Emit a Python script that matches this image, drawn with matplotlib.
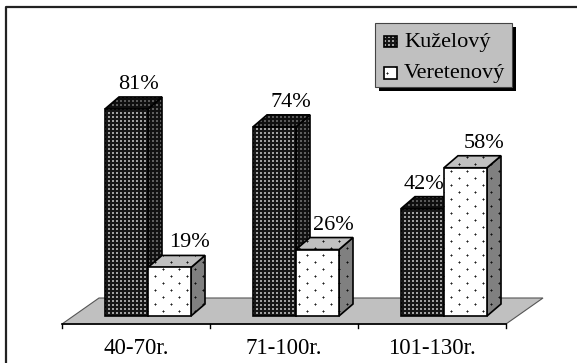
import matplotlib
matplotlib.use("Agg")
import matplotlib.pyplot as plt
import numpy as np
from matplotlib.patches import Polygon
from matplotlib.transforms import Affine2D

categories = ["40-70r.", "71-100r.", "101-130r."]
series_names = ["Kuželový", "Veretenový"]
kuzelovy = [81, 74, 42]
veretenovy = [19, 26, 58]

W, H = 577, 363
GROUP_PX = 148.0
PCT_PX = 2.556
X0_PX, Y0_PX = 136.0, 316.0

plt.rcParams["font.family"] = ["Liberation Serif", "DejaVu Serif"]
fig = plt.figure(figsize=(W / 100, H / 100), dpi=100, facecolor="white")
ax = fig.add_axes([0, 0, 1, 1])
ax.set_xlim(-X0_PX / GROUP_PX, (W - X0_PX) / GROUP_PX)
ax.set_ylim((Y0_PX - H) / PCT_PX, Y0_PX / PCT_PX)
ax.axis("off")
# pixel coords (y down) for frame, legend and text placement
px = Affine2D().scale(1, -1).translate(0, H)

# textures, one value per figure pixel
yy, xx = np.mgrid[0:H, 0:W]
grid = (xx % 4 < 2) & (yy % 4 < 2)
# soft staggered dots: dark centre, grey neighbours
u = xx % 16
v = yy % 14
centre = ((u == 3) & (v == 3)) | ((u == 11) & (v == 10))
halo = np.zeros_like(centre)
for sx, sy in [(1, 0), (-1, 0), (0, 1), (0, -1)]:
    halo |= np.roll(np.roll(centre, sx, axis=1), sy, axis=0)


def dark(light, base=22):
    return np.where(grid, light, base)


def dotted(back):
    out = np.where(halo, back * 0.5, back)
    return np.where(centre, back * 0.12, out)


tex = {
    "dark_front": dark(160),
    "dark_side": dark(95, 18),
    "dark_top": dark(90, 15),
    "light_front": dotted(255),
    "light_side": dotted(128),
    "light_top": dotted(192),
}

z = [1]


def textured(points, name, transform=None, lw=1.2):
    z[0] += 1
    tr = transform if transform is not None else ax.transData
    poly = Polygon(points, closed=True, facecolor="none", edgecolor="black",
                   linewidth=lw, transform=tr, zorder=z[0] + 0.5)
    ax.add_patch(poly)
    im = ax.imshow(tex[name], cmap="gray", vmin=0, vmax=255, origin="upper",
                   extent=(*ax.get_xlim(), *ax.get_ylim()), aspect="auto",
                   interpolation="nearest", zorder=z[0])
    im.set_clip_path(poly)
    z[0] += 1


def bar3d(x, w, val, kind, dx=14 / GROUP_PX, dy=12 / PCT_PX):
    textured([(x + w, 0), (x + w + dx, dy), (x + w + dx, val + dy), (x + w, val)], kind + "_side")
    textured([(x, val), (x + dx, val + dy), (x + w + dx, val + dy), (x + w, val)], kind + "_top")
    textured([(x, 0), (x + w, 0), (x + w, val), (x, val)], kind + "_front")


# floor
floor_y = -8 / PCT_PX
back_y = 18 / PCT_PX
shift = 37 / GROUP_PX
ax.add_patch(Polygon([(-0.5, floor_y), (2.5, floor_y), (2.5 + shift, back_y), (-0.5 + shift, back_y)],
                     facecolor="#c0c0c0", edgecolor="#555555", linewidth=0.8, zorder=1))

ax.plot([-0.5, 2.5], [floor_y, floor_y], color="black", lw=1.2, zorder=500)
for t in range(4):
    ax.plot([t - 0.5, t - 0.5], [floor_y, floor_y - 4 / PCT_PX], color="black", lw=1.0, zorder=500)

bar_left = -31 / GROUP_PX
bar_w = 43 / GROUP_PX
label_dx_k = [12, 16, 1]
label_dx_v = [20, 16, 19]
FS = 16

for i in range(len(categories)):
    x1 = i + bar_left
    x2 = x1 + bar_w
    bar3d(x1, bar_w, kuzelovy[i], "dark")
    z[0] += 1
    ax.text(x1 + bar_w / 2 + label_dx_k[i] / GROUP_PX, kuzelovy[i] + 20 / PCT_PX, f"{kuzelovy[i]}%",
            ha="center", va="baseline", fontsize=FS, color="black", zorder=z[0])
    bar3d(x2, bar_w, veretenovy[i], "light")
    z[0] += 1
    ax.text(x2 + bar_w / 2 + label_dx_v[i] / GROUP_PX, veretenovy[i] + 20 / PCT_PX, f"{veretenovy[i]}%",
            ha="center", va="baseline", fontsize=FS, color="black", zorder=z[0])
    ax.text(i, (Y0_PX - 354) / PCT_PX, categories[i], ha="center", va="baseline",
            fontsize=16.5, color="black", zorder=500)

# frame only shows on left and top
ax.plot([6, 6, W], [H, 7, 7], color="#222222", lw=1.6, transform=px, zorder=600, clip_on=False)

# legend
ax.add_patch(Polygon([(379, 27), (516, 27), (516, 91), (379, 91)], facecolor="black", edgecolor="none",
                     transform=px, zorder=700))
ax.add_patch(Polygon([(375, 23), (512, 23), (512, 87), (375, 87)], facecolor="#c0c0c0", edgecolor="#444444",
                     linewidth=0.8, transform=px, zorder=701))
z[0] = 702
textured([(384, 36), (397, 36), (397, 47), (384, 47)], "dark_front", transform=px)
textured([(384, 67), (397, 67), (397, 79), (384, 79)], "light_front", transform=px)
ax.text(404, 47, series_names[0], fontsize=FS, transform=px, va="baseline", ha="left", zorder=720)
ax.text(404, 78, series_names[1], fontsize=FS, transform=px, va="baseline", ha="left", zorder=720)

fig.savefig("out.png", dpi=100)
